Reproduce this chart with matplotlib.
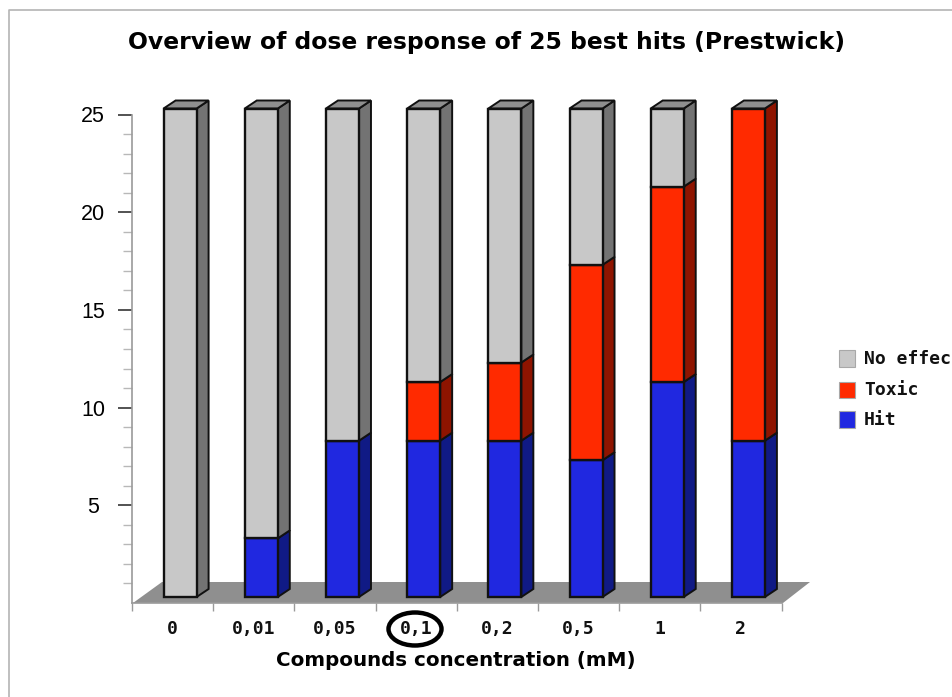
import matplotlib
matplotlib.use("Agg")
import matplotlib.pyplot as plt
from matplotlib.patches import Polygon, Ellipse, Rectangle
from matplotlib.lines import Line2D
from matplotlib.transforms import ScaledTranslation, IdentityTransform

categories = ["0", "0,01", "0,05", "0,1", "0,2", "0,5", "1", "2"]
hit = [0, 3, 8, 8, 8, 7, 11, 8]
toxic = [0, 0, 0, 3, 4, 10, 10, 17]
no_effect = [25, 22, 17, 14, 13, 8, 4, 0]
series = [("Hit", hit, "#2028E0", "#101A85"),
          ("Toxic", toxic, "#FF2A00", "#8E1400"),
          ("No effec", no_effect, "#C8C8C8", "#737373")]
title = "Overview of dose response of 25 best hits (Prestwick)"
xlabel = "Compounds concentration (mM)"

W, H = 952, 697
fig = plt.figure(figsize=(W / 100, H / 100), dpi=100, facecolor="white")
L, R, T, B = 132, 781.5, 114.5, 603
ax = fig.add_axes([L / W, 1 - B / H, (R - L) / W, (B - T) / H])
ax.set_xlim(0, len(categories))
ax.set_ylim(0, 25)
ax.patch.set_alpha(0)
px = IdentityTransform()


def fy(y):
    return H - y


# page frame
fig.add_artist(Line2D([9 / W, 9 / W, 1], [0, 1 - 10 / H, 1 - 10 / H], color="#B4B4B4", lw=1.2))

# floor
floor = [(133, 603), (162, 582), (810, 582), (783, 603)]
ax.add_patch(Polygon([(x, fy(y)) for x, y in floor], closed=True, transform=px,
                     facecolor="#8F8F8F", edgecolor="none", clip_on=False, zorder=1))

# bars
ux, uy = (R - L) / len(categories), (B - T) / 25
shift = ScaledTranslation(7.5 / 100, 6 / 100, fig.dpi_scale_trans)
tr = ax.transData + shift
bw = 33 / ux
dx, dy = 12 / ux, 8 / uy
edge = "#111111"
for i in range(len(categories)):
    x0 = i + 0.5 - bw / 2
    x1 = x0 + bw
    bottom = 0
    for name, vals, face, side in series:
        v = vals[i]
        if v == 0:
            continue
        top = bottom + v
        ax.add_patch(Polygon([(x1, bottom), (x1 + dx, bottom + dy), (x1 + dx, top + dy), (x1, top)],
                             closed=True, transform=tr, facecolor=side, edgecolor=edge, lw=1.4,
                             clip_on=False, zorder=3))
        ax.bar(i + 0.5, v, bw, bottom=bottom, color=face, edgecolor=edge, linewidth=1.7,
               transform=tr, clip_on=False, zorder=4)
        bottom = top
    ax.add_patch(Polygon([(x0, bottom), (x0 + dx, bottom + dy), (x1 + dx, bottom + dy), (x1, bottom)],
                         closed=True, transform=tr, facecolor="#8F8F8F", edgecolor=edge, lw=1.4,
                         clip_on=False, zorder=3))

# axes
for s in ("top", "right"):
    ax.spines[s].set_visible(False)
for s in ("left", "bottom"):
    ax.spines[s].set_color("#9A9A9A")
    ax.spines[s].set_linewidth(1.2)

ax.set_yticks([5, 10, 15, 20, 25])
ax.set_yticks([v for v in range(1, 25) if v % 5], minor=True)
ax.tick_params(axis="y", which="major", length=10, width=1.3, color="#444444", pad=18,
               labelsize=15.5, labelfontfamily="Liberation Sans")
for lab in ax.get_yticklabels():
    lab.set_horizontalalignment("center")
ax.tick_params(axis="y", which="minor", length=6.5, width=1.0, color="#B8B8B8")
ax.set_xticks(range(len(categories) + 1))
ax.set_xticklabels([])
ax.tick_params(axis="x", which="major", length=6, width=1.0, color="#9A9A9A")
for i, c in enumerate(categories):
    ax.annotate(c, xy=(i + 0.5, 0), xycoords=("data", "axes fraction"), xytext=(0, -(629 - B)),
                textcoords="offset pixels", ha="center", va="center", family="DejaVu Sans Mono",
                fontweight="bold", fontsize=13, color="#111111", annotation_clip=False)

fig.text(486.5 / W, 1 - 42 / H, title, ha="center", va="center", family="DejaVu Sans",
         fontweight="bold", fontsize=16.9, color="black")
fig.text(456 / W, 1 - 661 / H, xlabel, ha="center", va="center", family="DejaVu Sans",
         fontweight="bold", fontsize=14.3, color="black")

# circled tick label
ax.add_patch(Ellipse((415, fy(629)), 53, 33, transform=px, facecolor="none", edgecolor="black",
                     lw=3.2, clip_on=False, zorder=6))

# legend
for (name, vals, face, side), yc in zip(series, (420, 390, 359)):
    fig.add_artist(Rectangle((838.5 / W, 1 - (yc + 8) / H), 16.5 / W, 16.5 / H, transform=fig.transFigure,
                             facecolor=face, edgecolor="#A8A8A8", lw=0.8))
    fig.text(864 / W, 1 - yc / H, name, ha="left", va="center", family="DejaVu Sans Mono",
             fontweight="bold", fontsize=13, color="#111111")

fig.savefig("out.png", dpi=100)
